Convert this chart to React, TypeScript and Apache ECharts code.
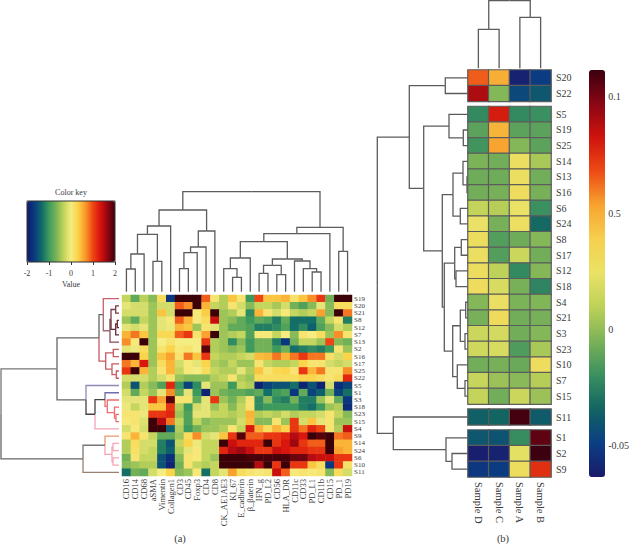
import React, { useEffect, useRef } from "react";
import * as echarts from "echarts";

const FONT = "Liberation Serif";

const markers = ["CD16","CD14","CD68","aSMA","Vimentin","Collagen1","CD3","CD45","Foxp3","CD4","CD8","CK_AE1AE3","KI_67","E_cadherin","β_βaterin","IFN_g","PD_L2","CD56","HLA_DR","CD11c","CD33","PD_L1","CD11b","CD15","PD_1","PD19"];
const leftRows = ["S19","S20","S21","S8","S12","S7","S13","S2","S16","S17","S25","S22","S5","S1","S3","S18","S23","S15","S4","S9","S14","S24","S6","S10","S11"];
const leftValues = [
  [-.3,-.8,-.35,-.6,.2,-1.7,2,2,2,.9,.1,-.4,.4,.1,-1,1,.4,.4,.5,.15,.4,.7,1.1,-.7,2,2],
  [-.1,-.2,-.2,-.5,-.2,-.2,.9,.7,2,.5,-.3,-.4,.1,-.2,-.6,-.3,-.3,-.45,-.2,-.7,-.9,-.6,-.1,-.6,.2,.2],
  [-.2,-.2,-.2,-.5,.4,-.2,2,2,.05,.35,2,-.5,-.4,-.1,-1.1,.5,.1,-.2,.05,-.3,-.4,-.3,.6,-.6,2,.8],
  [-.5,-.8,-.3,-.5,-.1,.05,.9,.5,.05,.2,1.4,-.5,-.6,-.8,-1,-.8,-.9,-1.2,-.8,-1.3,-1.3,-1.3,-.8,-.3,.1,-1.2],
  [-.1,-.2,-.1,-.5,-.1,-.05,.5,.4,-.5,.1,-.1,-.5,-.8,-.8,-.9,-1.2,-1.2,-1.1,-.9,-1.3,-1.1,-1.4,-.9,-.6,-.2,-.4],
  [.5,.8,.4,-.5,.25,.25,.9,1.1,.1,.6,2,-.5,-.4,-.3,-.9,.05,.05,-.3,0,-.6,.1,0,.2,-.5,.7,.1],
  [.7,.05,2,-.5,0,.1,0,0,0,1.1,-.4,-.5,-1.1,-.6,-1,-.7,-.7,-1.2,-1.7,-.7,-.3,-.3,-.5,1,-.6,-.7],
  [-.1,-.05,.2,-.5,.1,.3,.05,.1,0,1.9,-.4,-.5,-.6,-.5,-1,-.7,-.7,-1,-.7,-1.3,-1.2,-1.1,-1.2,-1,.1,-.5],
  [2,2,.3,-.5,.4,.6,.1,.8,.4,1.1,-.3,-.4,-.4,-.3,-.2,.45,.5,.8,.5,.8,1.1,.8,.8,.15,-.2,.3],
  [.8,.5,1.3,-.5,.2,.5,-.2,.05,-.1,.3,-.4,-.5,-.3,-.5,-.5,.1,-.3,-.4,-.4,-.3,.3,.1,.1,-.2,-.3,-.2],
  [1.1,2,.5,-.4,.1,.5,-.3,.05,0,.2,-.3,-.4,-.4,-.1,-.4,.4,.1,.25,.3,.1,1.1,.5,.8,.1,.1,.7],
  [-.2,-.2,-.2,-.4,-.2,.1,-.5,-.6,-.6,-.6,-.4,-.3,.1,-.4,-.5,.2,.2,.2,.2,.2,.3,.3,.2,.1,.2,1.2],
  [-.4,-1.5,-.4,-.6,-.9,1.2,-1,-1.6,-1.1,-.1,-.5,-.5,-1,-.3,-.4,-1.9,-1.6,-1.5,-1.5,-1.3,-1.9,-1.5,-1.9,-.2,-1.8,-1.6],
  [-.2,-.8,-.3,-.5,-.1,.7,-.8,-.1,-1,-1.9,-.5,-.7,-.8,-.8,-.9,-.8,-1.3,-1,-.9,-1.7,-.8,-1.6,-1.4,-.7,-1.6,-1.3],
  [-.1,-.1,-.1,1.1,.6,1.9,.1,.1,-.8,-.1,1.1,-.5,-.7,-.4,.1,-1.1,-.6,-1.1,-1.2,-.7,-1.2,-1.2,-.5,-.1,-.8,-1.7],
  [-.05,-.3,-.1,.4,.4,1.1,-.4,-1,-.2,-.1,-.5,-.3,-.6,-.3,.1,-1.1,-1,-1,-1,-1,-1.2,-1.3,-1,-.5,-.4,-1.8],
  [.1,.1,-.05,1.1,1.1,1.2,-.5,-.9,-.1,-.1,-.3,-.3,-.4,-.3,.5,-.4,-.3,-.4,-.2,-.4,-.3,-.3,-.2,.1,-.3,-.6],
  [.05,.1,-.15,2,1.5,.8,-.3,-.9,-.3,-.6,-.5,-.5,-.5,-.2,.45,-.6,-.6,.1,-.5,1.1,-.2,.4,-.1,.1,-.5,-.5],
  [-.2,.05,-.2,2,2,-1.4,-.4,-1,-.7,-.5,-.5,-.4,.1,-.3,1.3,.5,.2,.5,.3,1.1,.8,1.2,1,.1,-.4,1.4],
  [.1,.5,.1,-.3,-.8,-.8,-.5,.2,.7,-.2,-.1,.4,1.1,1.9,.9,.9,1.1,1.1,1.2,1.5,1.3,2,1.9,2,.8,.9],
  [-.4,.2,-.2,-.2,-1.2,-1.5,-.3,.3,-.05,-.3,-.3,2,1.4,1.2,1.2,1.2,2,1.1,1.3,1.6,1.1,.9,.9,2,.5,.5],
  [-.4,.15,-.2,-.3,-1.2,-1.4,-.4,-.1,.05,-.3,-.3,1.2,1.5,1.6,1.4,1.1,1.1,1.4,1.3,1.2,1.2,1.1,1.1,2,.6,.5],
  [-.7,.1,-.3,-.3,-1.5,-1.8,-.6,.1,.05,-.3,-.5,2,2,2,1.95,1.95,1.95,1.95,1.95,1.8,1.8,1.5,1.4,1.4,1.1,1.1],
  [-.6,-.5,-.4,-.4,-1.5,-1.9,-.7,.1,-.3,-.4,-.3,2,2,2,2,1.5,2,1.1,2,1.1,1.1,.4,.2,-1.7,1.1,.15],
  [-1.3,-.7,-.8,-.2,0,.3,-.6,-.5,.05,-1.3,-.3,-.1,.6,.2,.1,.05,.1,1.4,.9,.05,.1,.05,.1,-.6,.2,-.2],
];

const samples = ["Sample D","Sample C","Sample A","Sample B"];
const blockRows = [
  ["S20","S22"],
  ["S5","S19","S25","S14","S13","S16","S6","S24","S8","S17","S12","S18","S4","S21","S3","S23","S10","S7","S15"],
  ["S11"],
  ["S1","S2","S9"],
];
const blockValues = [
  [[.065,.05,-.06,-.05],[.09,-.003,-.045,-.04]],
  [[-.022,.08,-.022,-.02],[-.012,.048,-.012,-.012],[-.018,.053,-.003,-.012],[-.005,-.007,.027,.005],[-.008,-.008,.027,-.007],[-.007,-.006,.029,-.006],[.012,.008,.024,-.02],[.024,-.006,.027,-.033],[.028,-.014,-.008,-.003],[.027,-.014,.014,-.007],[.028,.01,-.022,-.003],[.029,.018,-.006,-.024],[-.003,.026,-.005,-.004],[-.006,.03,-.007,-.006],[.014,.017,-.007,-.003],[.015,.018,-.015,.005],[-.007,-.006,-.009,.029],[.013,.002,-.002,.008],[.012,-.007,.014,.002]],
  [[-.036,-.034,.11,-.038]],
  [[-.04,-.041,-.021,.105],[-.062,-.06,.022,.115],[-.052,-.05,.028,.075]],
];

// dendrograms: [childA, childB, height]; child >= 0 is a leaf, child < 0 is merge number -child-1
const colMerges = [[0,1,22.7],[-1,2,37.7],[3,4,30.3],[-2,-3,57.3],[-4,5,65.7],[6,7,23],[-6,8,39],[-7,9,44.7],[-8,10,60.7],[-5,-9,81.7],[12,13,14.3],[11,-11,23],[-12,14,33.7],[15,16,18.3],[17,18,17],[-14,-15,26.3],[21,22,19.7],[20,-17,23],[19,-18,30.7],[-16,-19,32.7],[-13,-20,50],[-21,23,58],[24,25,40.3],[-22,-23,64.3],[-10,-24,100]];
const rowMerges = [[1,2,3.3],[3,4,1.7],[-2,5,3.3],[-1,-3,8],[-4,6,9],[0,-5,15.7],[7,8,5.7],[10,11,2.7],[9,-8,7],[-7,-9,13.3],[-6,-10,20],[16,17,3],[15,-12,4.5],[14,-13,11.7],[13,-14,14],[-15,18,24],[12,-16,33],[-11,-17,62],[20,21,6],[22,23,6],[-19,-20,7],[19,-21,14],[-22,24,36],[-18,-23,118]];
const sampleMerges = [[0,1,39],[2,3,51],[-1,-2,68]];
const blockMerges = [[0,1,22.7],[3,4,4.7],[2,-2,19],[6,7,1],[5,-4,5],[8,9,7.7],[-5,-6,15],[10,11,6.7],[12,13,12],[-8,-9,13.3],[14,15,2.3],[16,17,3],[-11,-12,7.7],[19,20,3],[18,-14,10.7],[-13,-15,15.3],[-10,-16,23.7],[-7,-17,25.7],[-3,-18,44.3],[-1,-19,58.7],[23,24,16],[22,-21,22],[21,-22,74.7],[-20,-23,90.7]];

const rowLeafColors = ["#c9606c","#7a3a48","#7a3a48","#6a2a38","#6a2a38","#6a2a38","#8a4a58","#c85a60","#c85a60","#c85a60","#c85a60","#c85a60","#8f8bb5","#6f6fa5","#f06a6a","#f06a6a","#f06a6a","#f06a6a","#f5a5b5","#e89868","#f5a5b5","#f5a5b5","#f5a5b5","#f5a5b5","#9a8070"];
const rowNodeColors = ["#7a3a48","#5a2a38","#5a2a38","#7a3a48","#a06a78","#666666","#c85a60","#c85a60","#c85a60","#c85a60","#666666","#f06a6a","#f06a6a","#f06a6a","#444444","#444444","#666666","#777777","#f5a5b5","#f5a5b5","#f5a5b5","#777777","#666666","#444444"];

const keyRamp = ["#101a6e","#0a3a80","#0f6a68","#3e9a5c","#79b458","#c0d35a","#f5ec82","#fad145","#f9962a","#ee4513","#d8120d","#900612","#3c0008"];
const barRamp = ["#1b1a6b","#0a3e84","#126462","#3a9060","#7ab258","#bcd158","#e9e266","#f6d04e","#f7a530","#ee4c16","#d0140e","#8a0614","#3c0010"];
const barMin = -0.0637;
const barMax = 0.1116;
const barTickValues = [-0.05, 0, 0.05, 0.1];
const barTickLabels = ["-0.05", "0", "0.5", "0.1"];

const GREY = "#5c5c5c";
const TEXT = "#3a3a3a";

function layoutTree(merges: number[][], leafPos: (i: number) => number, leafColor: (i: number) => string, nodeColor: (i: number) => string) {
  const pos: number[] = [];
  const rows: number[][] = [];
  const colors: string[][] = [];
  const child = (c: number) => (c >= 0 ? { p: leafPos(c), h: 0, col: leafColor(c) } : { p: pos[-c - 1], h: merges[-c - 1][2], col: nodeColor(-c - 1) });
  merges.forEach((m, i) => {
    const a = child(m[0]);
    const b = child(m[1]);
    pos[i] = (a.p + b.p) / 2;
    rows.push([a.p, a.h, b.p, b.h, m[2]]);
    colors.push([a.col, b.col]);
  });
  return { rows, colors };
}

function dendroSeries(tree: { rows: number[][]; colors: string[][] }, axisIndex: number, horizontal: boolean) {
  return {
    type: "custom",
    xAxisIndex: axisIndex,
    yAxisIndex: axisIndex,
    silent: true,
    clip: false,
    data: tree.rows,
    renderItem: (params: any, api: any) => {
      const pt = (p: number, h: number) => api.coord(horizontal ? [h, p] : [p, h]);
      const pa = api.value(0), ha = api.value(1), pb = api.value(2), hb = api.value(3), h = api.value(4);
      const mid = (pa + pb) / 2;
      const cols = tree.colors[params.dataIndex];
      const leg = (p: number, from: number, col: string) => ({
        type: "polyline",
        shape: { points: [pt(p, from), pt(p, h), pt(mid, h)] },
        style: { stroke: col, lineWidth: 1.3, fill: null },
      });
      return { type: "group", children: [leg(pa, ha, cols[0]), leg(pb, hb, cols[1])] };
    },
  };
}

const hiddenValue = (extra: any) => ({ type: "value", show: false, ...extra });

export default function App() {
  const ref = useRef<HTMLDivElement>(null);
  useEffect(() => {
    const chart = echarts.init(ref.current!, null, { renderer: "svg" });

    const RIGHT_TOP = 70;
    const RIGHT_BOTTOM = 477;
    const GAP = 0.33;
    const unit = (RIGHT_BOTTOM - RIGHT_TOP) / (25 + 3 * GAP);

    const grids: any[] = [{ left: 122, top: 295, width: 230, height: 181 }];
    const xAxes: any[] = [{
      type: "category", gridIndex: 0, data: markers,
      axisLine: { show: false }, axisTick: { show: false },
      axisLabel: { interval: 0, rotate: 90, fontSize: 8.5, margin: 3, color: TEXT, fontFamily: FONT },
    }];
    const yAxes: any[] = [{
      type: "category", gridIndex: 0, data: leftRows, inverse: true, position: "right",
      axisLine: { show: false }, axisTick: { show: false },
      axisLabel: { interval: 0, fontSize: 7, lineHeight: 7, margin: 2, color: TEXT, fontFamily: FONT },
    }];
    const series: any[] = [{
      type: "heatmap", xAxisIndex: 0, yAxisIndex: 0, silent: true,
      data: leftValues.flatMap((row, y) => row.map((v, x) => [x, y, v])),
      itemStyle: { borderWidth: 0 },
    }];

    // right heat blocks, separated by small gaps
    const blockIdx: number[] = [];
    const leafRightPos: number[] = [];
    let start = 0;
    blockRows.forEach((rows, b) => {
      rows.forEach((_, i) => leafRightPos.push(start + b * GAP + i + 0.5));
      const g = grids.length;
      blockIdx.push(g);
      grids.push({ left: 468, width: 83, top: RIGHT_TOP + unit * (start + b * GAP), height: unit * rows.length });
      xAxes.push({
        type: "category", gridIndex: g, data: samples,
        axisLine: { show: false }, axisTick: { show: false },
        axisLabel: b === blockRows.length - 1
          ? { interval: 0, rotate: -90, fontSize: 10.5, margin: 5, color: TEXT, fontFamily: FONT }
          : { show: false },
      });
      yAxes.push({
        type: "category", gridIndex: g, data: rows, inverse: true, position: "right",
        axisLine: { show: false }, axisTick: { show: false },
        axisLabel: { interval: 0, fontSize: 10, margin: 5, color: TEXT, fontFamily: FONT },
      });
      series.push({
        type: "heatmap", xAxisIndex: g, yAxisIndex: g, silent: true,
        data: blockValues[b].flatMap((row, y) => row.map((v, x) => [x, y, v])),
        itemStyle: { borderWidth: 1.2, borderColor: GREY },
      });
      start += rows.length;
    });

    // colour key axis
    const keyG = grids.length;
    grids.push({ left: 27, top: 201, width: 88, height: 61, show: true, borderColor: "#333", borderWidth: 1, backgroundColor: "transparent", z: 10 });
    xAxes.push({
      type: "value", gridIndex: keyG, min: -2, max: 2, interval: 1, position: "bottom",
      name: "Value", nameLocation: "middle", nameGap: 18,
      nameTextStyle: { fontSize: 8, color: TEXT, fontFamily: FONT },
      splitLine: { show: false },
      axisLine: { show: false },
      axisTick: { show: true, length: 3, lineStyle: { color: "#333" } },
      axisLabel: { fontSize: 8, margin: 7, color: TEXT, fontFamily: FONT },
    });
    yAxes.push(hiddenValue({ gridIndex: keyG, min: 0, max: 1 }));

    // right colour bar axis
    const barG = grids.length;
    grids.push({ left: 589, top: RIGHT_TOP, width: 16, height: RIGHT_BOTTOM - RIGHT_TOP });
    xAxes.push(hiddenValue({ gridIndex: barG, min: 0, max: 1 }));
    yAxes.push({
      type: "value", gridIndex: barG, min: barMin, max: barMax, position: "right",
      splitLine: { show: false }, axisLine: { show: false }, axisTick: { show: false },
      axisLabel: {
        customValues: barTickValues, fontSize: 10, margin: 5, color: TEXT, fontFamily: FONT,
        formatter: (v: number) => barTickLabels[barTickValues.findIndex((t) => Math.abs(t - v) < 1e-6)] ?? "",
      },
    });

    // dendrograms
    const add = (grid: any, x: any, y: any) => {
      const g = grids.length;
      grids.push(grid);
      xAxes.push(hiddenValue({ gridIndex: g, ...x }));
      yAxes.push(hiddenValue({ gridIndex: g, ...y }));
      return g;
    };
    const gc = add({ left: 122, top: 191.7, width: 230, height: 100 }, { min: 0, max: markers.length }, { min: 0, max: 100 });
    series.push(dendroSeries(layoutTree(colMerges, (i) => i + 0.5, () => GREY, () => GREY), gc, false));
    const gr = add({ left: 0, top: 295, width: 119, height: 181 }, { min: 0, max: 119, inverse: true }, { min: 0, max: leftRows.length, inverse: true });
    series.push(dendroSeries(layoutTree(rowMerges, (i) => i + 0.5, (i) => rowLeafColors[i], (i) => rowNodeColors[i]), gr, true));
    const gs = add({ left: 468, top: 0.5, width: 83, height: 67.8 }, { min: 0, max: samples.length }, { min: 0, max: 68 });
    series.push(dendroSeries(layoutTree(sampleMerges, (i) => i + 0.5, () => GREY, () => GREY), gs, false));
    const gb = add({ left: 376, top: RIGHT_TOP, width: 92, height: RIGHT_BOTTOM - RIGHT_TOP }, { min: 0, max: 92, inverse: true }, { min: 0, max: 25 + 3 * GAP, inverse: true });
    series.push(dendroSeries(layoutTree(blockMerges, (i) => leafRightPos[i], () => GREY, () => GREY), gb, true));

    const titleStyle = (fontSize: number) => ({ fontSize, fontWeight: "normal" as const, color: TEXT, fontFamily: FONT });

    chart.setOption({
      animation: false,
      backgroundColor: "#ffffff",
      textStyle: { fontFamily: FONT },
      title: [
        { text: "Color key", left: 71, top: 188, textAlign: "center", padding: 0, textStyle: titleStyle(8) },
        { text: "(a)", left: 180, top: 533, textAlign: "center", padding: 0, textStyle: titleStyle(10.5) },
        { text: "(b)", left: 503, top: 533, textAlign: "center", padding: 0, textStyle: titleStyle(10.5) },
      ],
      grid: grids,
      xAxis: xAxes,
      yAxis: yAxes,
      visualMap: [
        {
          type: "continuous", seriesIndex: 0, min: -2, max: 2, orient: "horizontal",
          left: 27, top: 201, itemWidth: 61, itemHeight: 88, padding: 0, calculable: false, hoverLink: false,
          inRange: { color: keyRamp }, show: true, text: undefined, borderWidth: 0,
        },
        {
          type: "continuous", seriesIndex: blockIdx, min: barMin, max: barMax, orient: "vertical",
          left: 589, top: RIGHT_TOP, itemWidth: 16, itemHeight: RIGHT_BOTTOM - RIGHT_TOP, padding: 0, calculable: false, hoverLink: false,
          inRange: { color: barRamp }, show: true, borderWidth: 0,
        },
      ],
      series,
    });
    return () => chart.dispose();
  }, []);
  return <div ref={ref} style={{ position: "absolute", left: 0, top: 0, width: 632, height: 545 }} />;
}
